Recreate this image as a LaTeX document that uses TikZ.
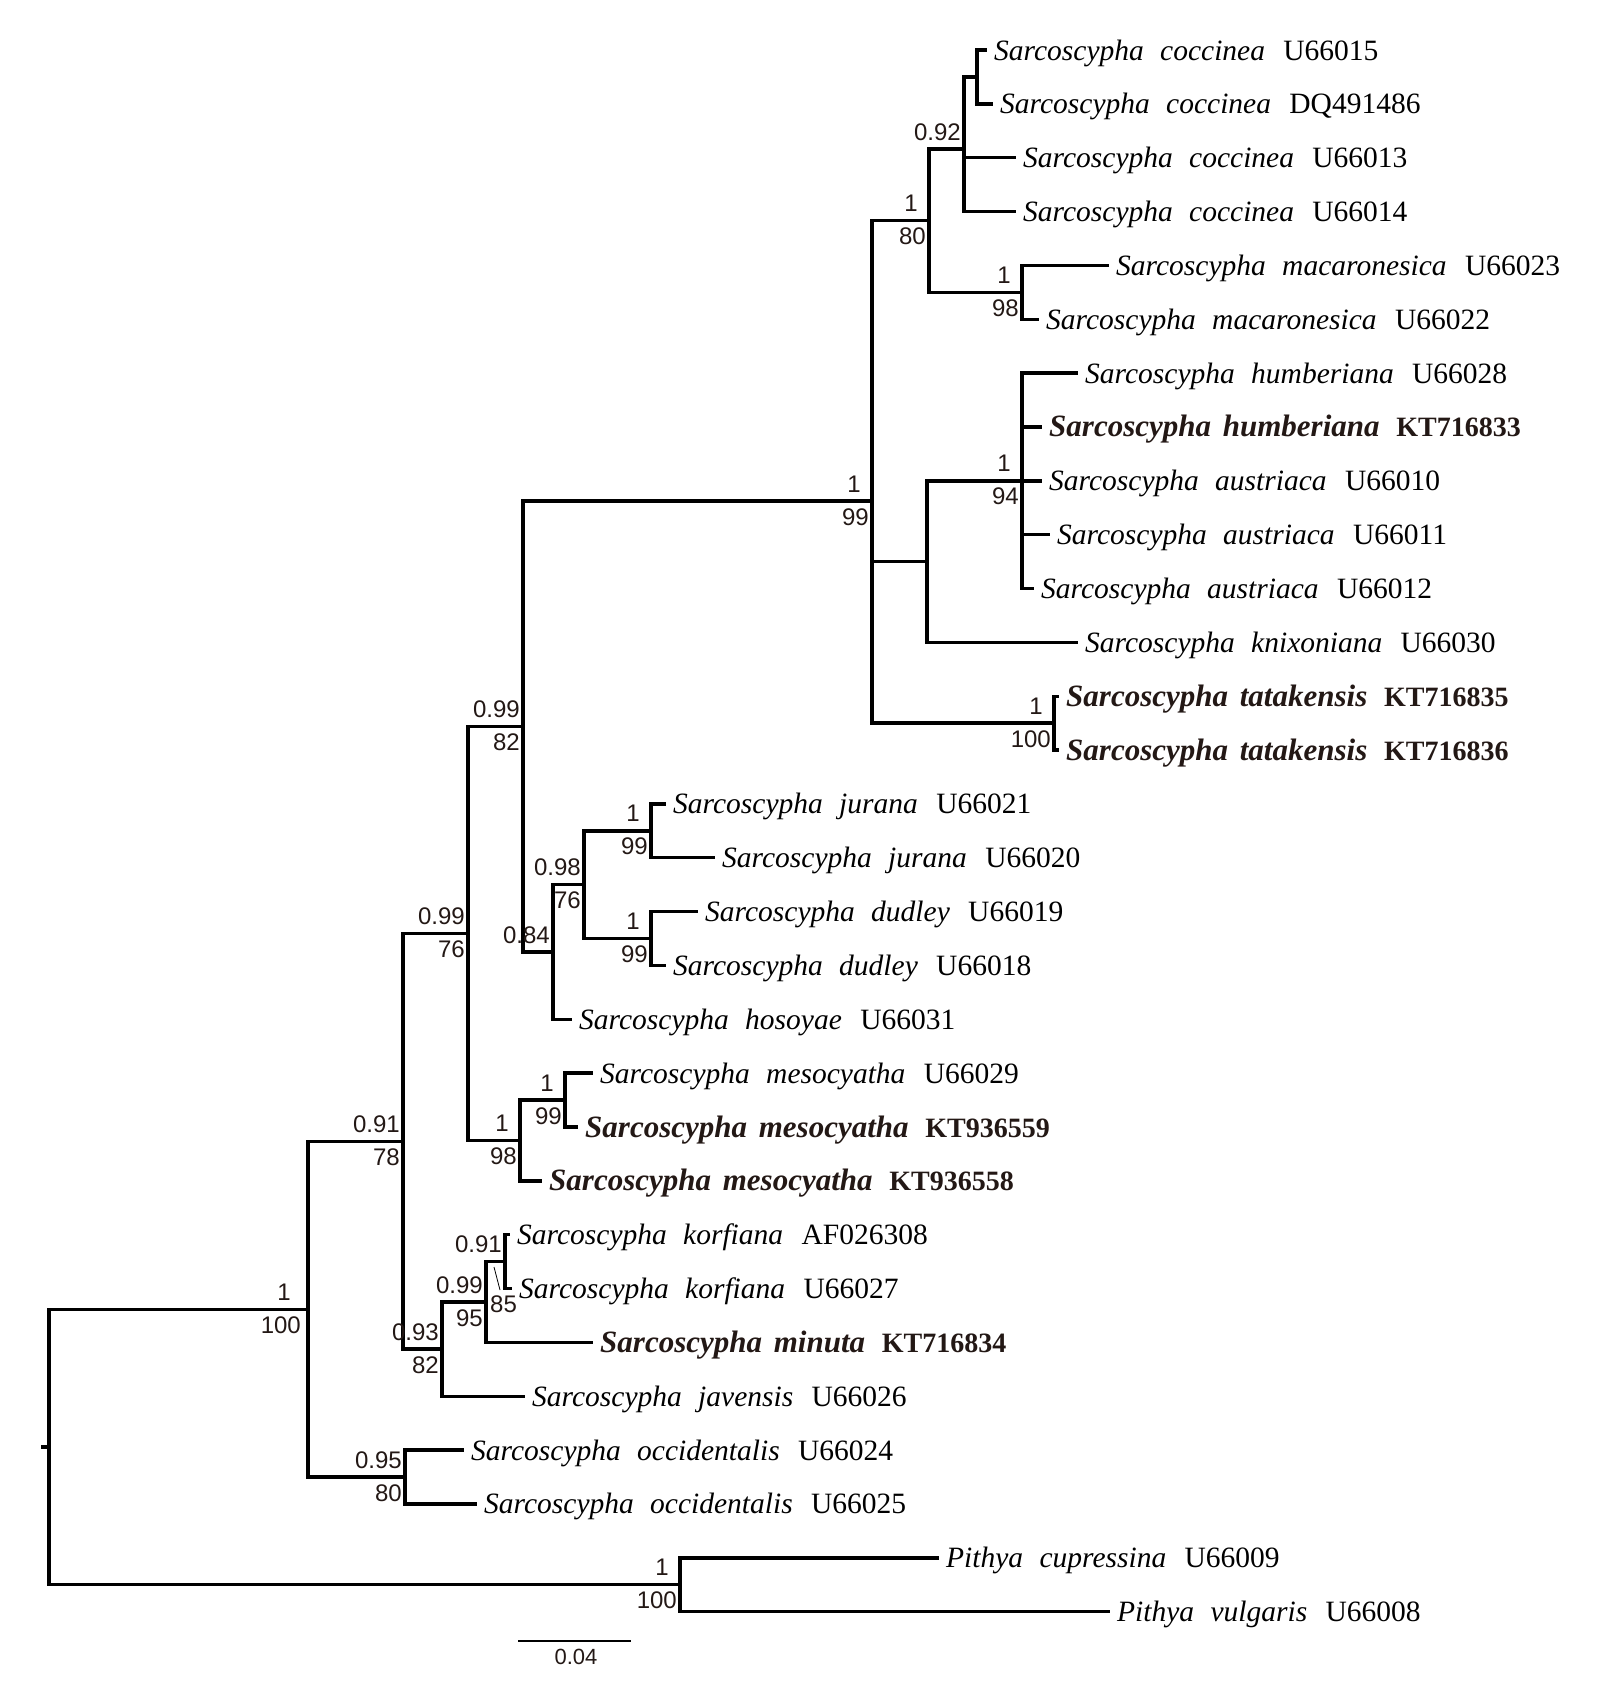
\documentclass[tikz,border=0pt]{standalone}
\usepackage{fontspec}
\setmainfont{Liberation Serif}
\newfontfamily\supfont{Liberation Sans}
\definecolor{dk}{RGB}{35,24,21}
\newcommand\leafit[3]{{\fontsize{29.5}{30}\selectfont\itshape #1\hspace{9pt} #2\hspace{11pt} }{\fontsize{29.5}{30}\selectfont\upshape #3}}
\newcommand\leafbold[3]{\textcolor{dk}{{\fontsize{31}{32}\selectfont\bfseries\itshape #1\hspace{4pt} #2\hspace{9pt} }{\fontsize{28}{29}\selectfont\bfseries #3}}}
\begin{document}
\begin{tikzpicture}[x=1pt, y={(0pt,-1pt)},
  br/.style={line width=3.4pt},
  lt/.style={anchor=base west, inner sep=0pt, xshift=7pt, yshift=-10pt},
  supa/.style={anchor=base east, inner sep=0pt, xshift=-3pt, yshift=9pt, text=dk, font=\supfont\fontsize{24}{25}\selectfont},
  supone/.style={supa, xshift=-8pt},
  supb/.style={anchor=base east, inner sep=0pt, xshift=-3pt, yshift=-24pt, text=dk, font=\supfont\fontsize{24}{25}\selectfont}]
\useasboundingbox (0,0) rectangle (1604,1698);
% leaf ends
\coordinate (e1) at (987,50);
\coordinate (e2) at (993,103.85);
\coordinate (e3) at (1016,157.7);
\coordinate (e4) at (1016,211.55);
\coordinate (e5) at (1109,265.4);
\coordinate (e6) at (1039,319.25);
\coordinate (e7) at (1078,373.1);
\coordinate (e8) at (1042,426.95);
\coordinate (e9) at (1042,480.8);
\coordinate (e10) at (1050,534.65);
\coordinate (e11) at (1034,588.5);
\coordinate (e12) at (1078,642.35);
\coordinate (e13) at (1059,696.2);
\coordinate (e14) at (1059,750.05);
\coordinate (e15) at (666,803.9);
\coordinate (e16) at (715,857.75);
\coordinate (e17) at (698,911.6);
\coordinate (e18) at (666,965.45);
\coordinate (e19) at (572,1019.3);
\coordinate (e20) at (593,1073.15);
\coordinate (e21) at (578,1127);
\coordinate (e22) at (542,1180.85);
\coordinate (e23) at (510,1234.7);
\coordinate (e24) at (512,1288.55);
\coordinate (e25) at (593,1342.4);
\coordinate (e26) at (525,1396.25);
\coordinate (e27) at (464,1450.1);
\coordinate (e28) at (477,1503.95);
\coordinate (e29) at (939,1557.8);
\coordinate (e30) at (1110,1611.65);
% internal nodes
\coordinate (stub) at (41,1447);
\coordinate (root) at (49,1447);
\coordinate (nS) at (308,1309.2);
\coordinate (nA) at (403,1141.3);
\coordinate (nB) at (468,933.5);
\coordinate (nC) at (523,726.5);
\coordinate (nD) at (872,501);
\coordinate (nE) at (929,220.7);
\coordinate (nF) at (964,149);
\coordinate (nG) at (977,76.9);
\coordinate (nH) at (1022,292.3);
\coordinate (nI) at (927,561.6);
\coordinate (nJ) at (1022,480.8);
\coordinate (nK) at (1054,723.1);
\coordinate (nL) at (553,952);
\coordinate (nM) at (584,884.7);
\coordinate (nN) at (651,830.8);
\coordinate (nO) at (651,938.5);
\coordinate (nP) at (520,1140.5);
\coordinate (nQ) at (565,1100.1);
\coordinate (nR) at (442,1349.1);
\coordinate (nT) at (486,1302);
\coordinate (nU) at (505,1261.6);
\coordinate (nV) at (405,1477);
\coordinate (nW) at (680,1584.7);
% branches
\draw[br] (stub) -- (root);
\draw[br] (root) |- (nS); \draw[br] (root) |- (nW);
\draw[br] (nS) |- (nA); \draw[br] (nS) |- (nV);
\draw[br] (nA) |- (nB); \draw[br] (nA) |- (nR);
\draw[br] (nB) |- (nC); \draw[br] (nB) |- (nP);
\draw[br] (nC) |- (nD); \draw[br] (nC) |- (nL);
\draw[br] (nD) |- (nE); \draw[br] (nD) |- (nI); \draw[br] (nD) |- (nK);
\draw[br] (nE) |- (nF); \draw[br] (nE) |- (nH);
\draw[br] (nF) |- (nG); \draw[br] (nF) |- (e3); \draw[br] (nF) |- (e4);
\draw[br] (nG) |- (e1); \draw[br] (nG) |- (e2);
\draw[br] (nH) |- (e5); \draw[br] (nH) |- (e6);
\draw[br] (nI) |- (nJ); \draw[br] (nI) |- (e12);
\draw[br] (nJ) |- (e7); \draw[br] (nJ) |- (e8); \draw[br] (nJ) |- (e9); \draw[br] (nJ) |- (e10); \draw[br] (nJ) |- (e11);
\draw[br] (nK) |- (e13); \draw[br] (nK) |- (e14);
\draw[br] (nL) |- (nM); \draw[br] (nL) |- (e19);
\draw[br] (nM) |- (nN); \draw[br] (nM) |- (nO);
\draw[br] (nN) |- (e15); \draw[br] (nN) |- (e16);
\draw[br] (nO) |- (e17); \draw[br] (nO) |- (e18);
\draw[br] (nP) |- (nQ); \draw[br] (nP) |- (e22);
\draw[br] (nQ) |- (e20); \draw[br] (nQ) |- (e21);
\draw[br] (nR) |- (nT); \draw[br] (nR) |- (e26);
\draw[br] (nT) |- (nU); \draw[br] (nT) |- (e25);
\draw[br] (nU) |- (e23); \draw[br] (nU) |- (e24);
\draw[br] (nV) |- (e27); \draw[br] (nV) |- (e28);
\draw[br] (nW) |- (e29); \draw[br] (nW) |- (e30);
% leaf labels
\node[lt] (t1) at (e1) {\leafit{Sarcoscypha}{coccinea}{U66015}};
\node[lt] (t2) at (e2) {\leafit{Sarcoscypha}{coccinea}{DQ491486}};
\node[lt] (t3) at (e3) {\leafit{Sarcoscypha}{coccinea}{U66013}};
\node[lt] (t4) at (e4) {\leafit{Sarcoscypha}{coccinea}{U66014}};
\node[lt] (t5) at (e5) {\leafit{Sarcoscypha}{macaronesica}{U66023}};
\node[lt] (t6) at (e6) {\leafit{Sarcoscypha}{macaronesica}{U66022}};
\node[lt] (t7) at (e7) {\leafit{Sarcoscypha}{humberiana}{U66028}};
\node[lt] (t8) at (e8) {\leafbold{Sarcoscypha}{humberiana}{KT716833}};
\node[lt] (t9) at (e9) {\leafit{Sarcoscypha}{austriaca}{U66010}};
\node[lt] (t10) at (e10) {\leafit{Sarcoscypha}{austriaca}{U66011}};
\node[lt] (t11) at (e11) {\leafit{Sarcoscypha}{austriaca}{U66012}};
\node[lt] (t12) at (e12) {\leafit{Sarcoscypha}{knixoniana}{U66030}};
\node[lt] (t13) at (e13) {\leafbold{Sarcoscypha}{tatakensis}{KT716835}};
\node[lt] (t14) at (e14) {\leafbold{Sarcoscypha}{tatakensis}{KT716836}};
\node[lt] (t15) at (e15) {\leafit{Sarcoscypha}{jurana}{U66021}};
\node[lt] (t16) at (e16) {\leafit{Sarcoscypha}{jurana}{U66020}};
\node[lt] (t17) at (e17) {\leafit{Sarcoscypha}{dudley}{U66019}};
\node[lt] (t18) at (e18) {\leafit{Sarcoscypha}{dudley}{U66018}};
\node[lt] (t19) at (e19) {\leafit{Sarcoscypha}{hosoyae}{U66031}};
\node[lt] (t20) at (e20) {\leafit{Sarcoscypha}{mesocyatha}{U66029}};
\node[lt] (t21) at (e21) {\leafbold{Sarcoscypha}{mesocyatha}{KT936559}};
\node[lt] (t22) at (e22) {\leafbold{Sarcoscypha}{mesocyatha}{KT936558}};
\node[lt] (t23) at (e23) {\leafit{Sarcoscypha}{korfiana}{AF026308}};
\node[lt] (t24) at (e24) {\leafit{Sarcoscypha}{korfiana}{U66027}};
\node[lt] (t25) at (e25) {\leafbold{Sarcoscypha}{minuta}{KT716834}};
\node[lt] (t26) at (e26) {\leafit{Sarcoscypha}{javensis}{U66026}};
\node[lt] (t27) at (e27) {\leafit{Sarcoscypha}{occidentalis}{U66024}};
\node[lt] (t28) at (e28) {\leafit{Sarcoscypha}{occidentalis}{U66025}};
\node[lt] (t29) at (e29) {\leafit{Pithya}{cupressina}{U66009}};
\node[lt] (t30) at (e30) {\leafit{Pithya}{vulgaris}{U66008}};
% support values
\node[supone] (sEa) at (nE) {1};    \node[supb] (sEb) at (nE) {80};
\node[supa] (sFa) at (nF) {0.92};
\node[supone] (sHa) at (nH) {1};    \node[supb] (sHb) at (nH) {98};
\node[supone] (sJa) at (nJ) {1};    \node[supb] (sJb) at (nJ) {94};
\node[supone] (sKa) at (nK) {1};    \node[supb] (sKb) at (nK) {100};
\node[supone] (sDa) at (nD) {1};    \node[supb] (sDb) at (nD) {99};
\node[supa] (sCa) at (nC) {0.99};   \node[supb] (sCb) at (nC) {82};
\node[supa] (sLa) at (nL) {0.84};
\node[supa] (sMa) at (nM) {0.98};   \node[supb] (sMb) at (nM) {76};
\node[supone] (sNa) at (nN) {1};    \node[supb] (sNb) at (nN) {99};
\node[supone] (sOa) at (nO) {1};    \node[supb] (sOb) at (nO) {99};
\node[supa] (sBa) at (nB) {0.99};   \node[supb] (sBb) at (nB) {76};
\node[supone] (sQa) at (nQ) {1};    \node[supb] (sQb) at (nQ) {99};
\node[supone] (sPa) at (nP) {1};    \node[supb] (sPb) at (nP) {98};
\node[supa] (sAa) at (nA) {0.91};   \node[supb] (sAb) at (nA) {78};
\node[supa] (sRa) at (nR) {0.93};   \node[supb] (sRb) at (nR) {82};
\node[supa] (sTa) at (nT) {0.99};   \node[supb] (sTb) at (nT) {95};
\node[supa] (sUa) at (nU) {0.91};
\node[supone, xshift=-6pt] (sSa) at (nS) {1}; \node[supb, xshift=-4pt] (sSb) at (nS) {100};
\node[supa] (sVa) at (nV) {0.95};   \node[supb] (sVb) at (nV) {80};
\node[supone] (sWa) at (nW) {1};    \node[supb] (sWb) at (nW) {100};
% 85 with leader
\coordinate (k85) at (490,1312);
\node[anchor=base west, inner sep=0pt, text=dk, font=\supfont\fontsize{24}{25}\selectfont] (sUb) at (k85) {85};
\coordinate (ld1) at (494,1267);
\coordinate (ld2) at (500,1290);
\draw[line width=0.8pt] (ld1) -- (ld2);
% scale bar
\coordinate (sb1) at (518,1641);
\coordinate (sb2) at (631,1641);
\draw[line width=1.6pt] (sb1) -- (sb2);
\coordinate (sbl) at (576,1664);
\node[anchor=base, inner sep=0pt, text=dk, font=\supfont\fontsize{22}{23}\selectfont] (sbt) at (sbl) {0.04};
\end{tikzpicture}
\end{document}
